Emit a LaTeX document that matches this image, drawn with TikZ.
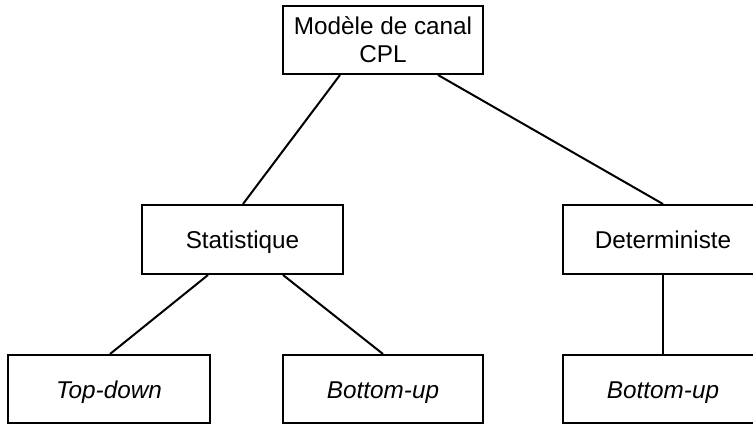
\documentclass[tikz,border=0pt]{standalone}
\usepackage{fontspec}
\setmainfont{Liberation Sans}
\usetikzlibrary{calc}
\tikzset{
  box/.style={draw=black, line width=2pt, fill=white, minimum width=200pt, minimum height=68pt, inner sep=0pt, align=center, font=\fontsize{24.3}{28}\selectfont},
  one/.style={text height=20pt, text depth=2pt},
  conn/.style={draw=black, line width=2pt},
}
\begin{document}
\begin{tikzpicture}[x=1pt,y=-1pt]
\useasboundingbox (0,0) rectangle (753,425);
\clip (0,0) rectangle (753,425);
\fill[white] (0,0) rectangle (753,425);
\node[box, text depth=0pt] (top) at (383,40) {Modèle de canal\\CPL};
\node[box, one, minimum width=201pt, minimum height=69pt] (stat) at (242.5,239.5) {Statistique};
\node[box, one, minimum height=69pt] (det) at (663,239.5) {Deterministe};
\node[box, one, minimum width=202pt] (td) at (109,389) {\itshape Top-down};
\node[box, one] (bu) at (383,389) {\itshape Bottom-up};
\node[box, one] (bu2) at (663,389) {\itshape Bottom-up};
\coordinate (t1) at ($(top.south)+(-43,0)$);
\coordinate (t2) at ($(top.south)+(55,0)$);
\coordinate (s1) at ($(stat.south)+(-34.5,0)$);
\coordinate (s2) at ($(stat.south)+(40.5,0)$);
\coordinate (sn) at ($(stat.north)+(0.5,0)$);
\coordinate (tdn) at ($(td.north)+(1,0)$);
\draw[conn] (t1) -- (sn);
\draw[conn] (t2) -- (det.north);
\draw[conn] (s1) -- (tdn);
\draw[conn] (s2) -- (bu.north);
\draw[conn] (det.south) -- (bu2.north);
\end{tikzpicture}
\end{document}
